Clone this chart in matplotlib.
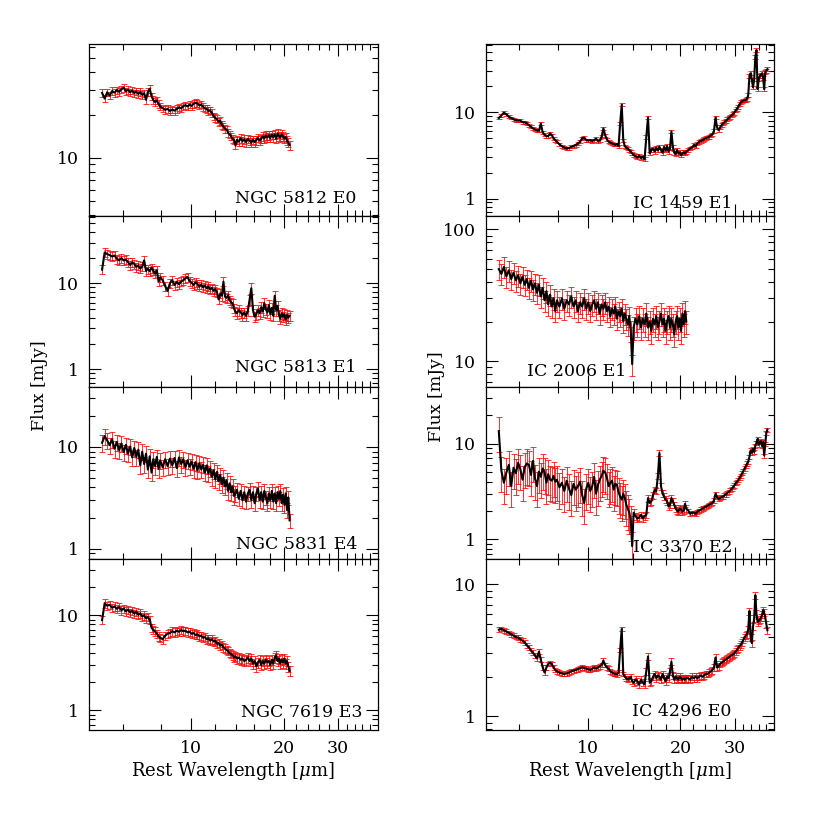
import numpy as np
import matplotlib
matplotlib.use("Agg")
import matplotlib.pyplot as plt
from matplotlib.ticker import FixedLocator, LogLocator, FuncFormatter, NullFormatter

plt.rcParams['font.family'] = 'DejaVu Serif'
plt.rcParams['mathtext.fontset'] = 'dejavuserif'

# wavelength grid (micron), short-low part and long-low extension
wave_short = [5.15, 5.25, 5.35, 5.45, 5.55, 5.65, 5.75, 5.85, 5.95, 6.05,
              6.15, 6.25, 6.35, 6.45, 6.55, 6.65, 6.75, 6.85, 6.95, 7.05,
              7.15, 7.25, 7.35, 7.45, 7.55, 7.65, 7.75, 7.85, 7.95,
              8.1, 8.25, 8.4, 8.55, 8.7, 8.85, 9.0, 9.15, 9.3, 9.45,
              9.6, 9.75, 9.9, 10.05, 10.2, 10.35, 10.5, 10.65, 10.8, 10.95,
              11.1, 11.25, 11.4, 11.55, 11.7, 11.85, 12.0, 12.15, 12.3, 12.45,
              12.6, 12.75, 12.9, 13.05, 13.2, 13.35, 13.5, 13.65, 13.8, 13.95,
              14.1, 14.3, 14.5, 14.7, 14.9, 15.1, 15.3, 15.5, 15.7, 15.9,
              16.1, 16.3, 16.5, 16.7, 16.9, 17.1, 17.3, 17.5, 17.7, 17.9,
              18.1, 18.3, 18.5, 18.7, 18.9, 19.1, 19.3, 19.5, 19.7, 19.9,
              20.1, 20.3, 20.5, 20.7, 20.9]
wave_long = [21.2, 21.5, 21.8, 22.1, 22.4, 22.7, 23.0, 23.3, 23.6, 23.9,
             24.2, 24.5, 24.8, 25.1, 25.4, 25.7, 26.0, 26.3, 26.6, 26.9,
             27.2, 27.5, 27.8, 28.1, 28.4, 28.7, 29.0, 29.3, 29.6, 29.9,
             30.2, 30.5, 30.8, 31.1, 31.4, 31.7, 32.0, 32.3, 32.6, 32.9,
             33.2, 33.5, 33.8, 34.1, 34.4, 34.7, 35.0, 35.3, 35.6, 35.9,
             36.2, 36.5, 36.8, 37.1, 37.4, 37.7, 38.0, 38.3]

# fluxes in mJy
flux_ngc5812 = [28.5, 26.0, 28.8, 27.3, 29.4, 28.6, 29.8, 29.0, 30.2, 31.0,
                29.3, 30.0, 28.8, 29.6, 28.4, 29.2, 28.0, 28.9, 27.6, 28.4,
                25.5, 29.0, 30.5, 27.0, 25.4, 24.6, 25.3, 23.8, 22.9,
                22.3, 21.7, 22.0, 21.3, 21.8, 21.4, 22.0, 22.6, 22.2, 23.0,
                23.4, 22.9, 23.6, 23.1, 23.9, 24.3, 24.0, 23.3, 23.6, 22.8,
                22.2, 22.0, 21.3, 21.5, 20.6, 19.6, 19.0, 18.7, 17.9, 18.2,
                17.0, 16.6, 16.0, 15.8, 15.0, 14.6, 14.2, 13.6, 13.3, 12.2,
                13.4, 13.0, 13.7, 13.1, 13.5, 12.9, 13.6, 13.2, 12.8, 13.4,
                12.9, 13.3, 13.8, 13.2, 13.6, 14.1, 13.7, 14.3, 13.9, 14.4,
                13.8, 14.5, 14.0, 14.6, 13.6, 14.8, 14.2, 13.9, 14.6, 14.1,
                13.7, 14.0, 13.2, 12.8, 12.3]
flux_ngc5813 = [14.5, 23.0, 22.0, 21.4, 20.6, 21.2, 19.4, 18.6, 19.8, 18.5,
                19.0, 17.8, 16.4, 17.6, 16.9, 15.6, 16.2, 14.9, 15.8, 18.6,
                14.0, 14.8, 13.9, 15.2, 14.1, 13.0, 14.2, 10.6, 11.8,
                10.9, 9.3, 8.2, 10.1, 10.9, 9.6, 10.4, 9.8, 10.6, 10.9,
                11.5, 11.9, 10.7, 10.2, 9.6, 10.3, 9.9, 9.2, 9.7, 9.0,
                9.5, 8.8, 9.2, 8.5, 8.9, 8.2, 8.6, 7.9, 6.5, 7.6,
                7.2, 10.5, 7.0, 6.8, 7.3, 6.4, 6.0, 5.9, 5.1, 4.7,
                4.5, 4.9, 4.6, 4.3, 4.6, 4.2, 4.8, 6.5, 8.8, 4.9,
                4.1, 4.4, 4.9, 4.5, 5.3, 4.7, 5.9, 5.0, 4.6, 5.6,
                4.4, 5.2, 4.2, 7.2, 4.9, 5.5, 4.3, 3.9, 4.5, 4.1,
                4.4, 3.8, 4.3, 4.0, 4.2]
flux_ngc5831 = [11.0, 12.8, 11.6, 10.4, 11.9, 9.6, 11.2, 9.3, 10.8, 8.9,
                10.5, 8.6, 10.1, 7.9, 9.8, 8.0, 9.4, 6.6, 9.0, 6.8,
                8.6, 6.0, 8.1, 5.6, 7.6, 6.5, 8.0, 6.1, 7.4,
                6.3, 7.6, 6.5, 7.7, 6.6, 7.8, 6.2, 7.9, 6.8, 7.6,
                6.3, 7.4, 6.4, 7.2, 6.1, 7.1, 5.9, 6.9, 6.0, 6.7,
                5.6, 6.6, 5.5, 6.2, 5.1, 5.9, 4.8, 5.7, 4.6, 5.3,
                4.3, 5.0, 4.1, 4.7, 3.7, 4.4, 3.6, 4.1, 3.3, 3.5,
                3.8, 3.1, 3.7, 3.0, 3.6, 2.9, 3.5, 3.8, 3.0, 3.6,
                2.8, 3.5, 3.9, 3.0, 3.6, 2.9, 3.7, 3.2, 2.8, 3.5,
                3.0, 3.7, 2.9, 3.5, 2.8, 3.6, 3.1, 3.7, 2.8, 3.4,
                2.7, 3.5, 2.4, 3.2, 1.9]
flux_ngc7619 = [8.9, 13.4, 12.6, 12.9, 12.0, 12.4, 11.7, 12.2, 11.3, 11.8,
                11.0, 11.5, 10.7, 11.2, 10.4, 10.9, 10.1, 10.5, 9.7, 10.0,
                9.3, 9.6, 9.0, 7.4, 7.0, 6.8, 6.4, 6.0, 5.8,
                5.6, 6.1, 6.4, 6.5, 6.8, 6.6, 6.9, 6.7, 7.0, 6.8,
                6.9, 6.6, 6.7, 6.4, 6.5, 6.2, 6.3, 6.0, 6.1, 5.8,
                5.9, 5.6, 5.7, 5.4, 5.6, 5.3, 5.4, 5.0, 5.1, 4.8,
                4.9, 4.6, 4.5, 4.3, 4.2, 4.0, 3.9, 3.8, 3.6, 3.7,
                3.5, 3.6, 3.4, 3.5, 3.3, 3.4, 3.6, 3.3, 3.5, 3.1,
                3.3, 2.9, 3.2, 3.4, 3.0, 3.3, 3.1, 3.4, 3.2, 3.3,
                3.0, 3.4, 3.1, 3.6, 3.8, 3.3, 3.5, 3.1, 3.4, 3.2,
                3.5, 3.1, 3.3, 2.9, 2.6]
flux_ic1459 = [8.6, 9.2, 9.9, 9.5, 8.9, 8.6, 8.3, 8.1, 8.05, 8.0,
               7.7, 7.65, 7.45, 7.1, 6.8, 6.5, 6.3, 6.2, 6.1, 7.4,
               5.85, 5.5, 5.3, 5.3, 5.7, 5.45, 5.0, 4.76, 4.55,
               4.25, 4.05, 3.9, 3.8, 3.85, 3.98, 4.05, 4.17, 4.36, 4.55,
               5.0, 5.08, 4.76, 4.7, 4.76, 4.65, 4.76, 4.95, 4.65, 4.7,
               5.2, 6.5, 5.45, 4.85, 4.55, 4.45, 4.36, 4.28, 4.2, 4.28,
               4.05, 7.4, 12.2, 4.76, 4.05, 3.9, 3.8, 3.65, 3.5, 3.34,
               3.18, 3.1, 3.0, 3.15, 2.95, 3.05, 2.85, 5.2, 8.7, 3.34,
               3.65, 3.8, 3.5, 3.9, 3.6, 3.98, 3.65, 3.4, 3.98, 3.6,
               4.05, 3.5, 3.8, 6.0, 3.98, 3.4, 3.28, 3.65, 3.34, 3.45,
               3.18, 3.34, 3.45, 3.34, 3.5,
               3.65, 3.8, 3.9, 4.17, 4.05, 4.36, 4.55, 4.65, 4.76, 4.9,
               5.0, 5.1, 5.2, 5.4, 5.55, 6.1, 8.7, 6.7, 6.2, 6.7,
               7.1, 7.45, 7.7, 8.0, 8.3, 8.6, 8.9, 9.2, 9.6, 9.9,
               10.5, 11.0, 11.6, 12.4, 13.1, 13.4, 13.7, 13.7, 13.9, 14.4,
               15.9, 26.5, 28.4, 24.0, 19.5, 24.0, 44.0, 53.0, 18.6, 24.0,
               26.5, 27.5, 28.4, 25.0, 18.6, 29.5, 30.5, 31.7]
flux_ic2006 = [50, 46, 52, 44, 49, 42, 47, 41, 45, 39,
               44, 38, 42, 36, 41, 35, 39, 33, 38, 31,
               36, 29, 34, 27, 32, 26, 30, 24, 29,
               26, 30, 25, 29, 27, 31, 26, 29, 24, 28,
               26, 30, 25, 28, 24, 27, 29, 25, 28, 23,
               27, 25, 28, 24, 26, 22, 25, 23, 26, 21,
               24, 22, 25, 20, 23, 21, 19, 22, 17, 9.5,
               18, 21, 19, 22, 18, 21, 19, 23, 18, 20,
               17, 21, 19, 22, 18, 20, 23, 19, 21, 17,
               20, 22, 18, 21, 19, 16, 20, 22, 18, 21,
               17, 23, 19, 24, 20]
flux_ic3370 = [13.5, 5.2, 3.9, 5.0, 6.0, 3.6, 5.6, 4.9, 6.3, 5.4,
               4.2, 5.7, 6.2, 6.0, 4.7, 6.6, 4.3, 3.6, 5.1, 4.5,
               5.5, 5.0, 3.9, 4.8, 4.2, 4.1, 4.6, 4.0, 4.2,
               3.5, 3.9, 3.2, 4.1, 3.4, 2.9, 3.8, 3.3, 3.6, 4.0,
               2.9, 2.4, 3.4, 3.9, 3.2, 3.6, 4.5, 3.0, 3.7, 4.2,
               4.6, 5.2, 5.0, 4.4, 3.6, 3.9, 4.1, 3.3, 3.8, 3.7,
               3.1, 2.8, 2.6, 3.0, 2.7, 2.3, 2.1, 1.9, 1.6, 0.85,
               1.9, 1.75, 1.65, 1.7, 1.8, 1.65, 1.75, 1.8, 2.7, 2.4,
               2.5, 2.9, 3.3, 3.2, 4.6, 8.0, 3.6, 3.0, 2.8, 2.6,
               2.5, 2.2, 2.3, 2.7, 2.5, 2.3, 2.1, 2.0, 1.95, 2.1,
               2.05, 1.95, 2.0, 2.35, 2.1,
               2.0, 1.85, 1.9, 1.9, 1.85, 1.95, 2.0, 2.05, 2.1, 2.15,
               2.2, 2.25, 2.3, 2.35, 2.4, 2.55, 3.0, 2.75, 2.65, 2.7,
               2.75, 2.8, 2.9, 2.95, 3.05, 3.15, 3.25, 3.35, 3.5, 3.65,
               3.85, 4.0, 4.15, 4.4, 4.6, 4.9, 5.2, 5.5, 5.8, 6.2,
               6.5, 7.3, 8.5, 8.0, 8.8, 8.2, 9.5, 10.2, 11.2, 9.8,
               10.5, 10.6, 9.4, 10.4, 7.5, 10.0, 13.0, 14.0]
flux_ic4296 = [4.55, 4.6, 4.5, 4.4, 4.3, 4.2, 4.1, 4.0, 3.95, 3.85,
               3.75, 3.65, 3.45, 3.35, 3.15, 3.05, 2.9, 2.75, 3.1, 2.7,
               2.35, 2.15, 2.35, 2.5, 2.55, 2.5, 2.35, 2.25, 2.2,
               2.15, 2.12, 2.1, 2.12, 2.15, 2.2, 2.22, 2.25, 2.28, 2.32,
               2.35, 2.33, 2.3, 2.28, 2.25, 2.3, 2.35, 2.3, 2.35, 2.4,
               2.45, 2.65, 2.45, 2.35, 2.3, 2.2, 2.15, 2.12, 2.1, 2.08,
               2.15, 3.2, 4.6, 2.1, 2.0, 1.95, 1.9, 1.95, 2.0, 1.85,
               1.8, 1.9, 1.85, 1.75, 1.9, 1.8, 1.75, 2.2, 2.85, 1.8,
               1.85, 2.0, 2.1, 1.95, 2.05, 2.0, 1.9, 2.1, 1.95, 1.85,
               2.0, 1.95, 2.2, 2.6, 2.05, 1.9, 2.0, 1.95, 1.9, 2.0,
               1.95, 1.9, 1.95, 1.9, 1.95,
               1.95, 1.9, 2.0, 1.95, 2.0, 1.95, 2.0, 2.05, 2.0, 2.05,
               2.1, 2.1, 2.15, 2.2, 2.25, 2.35, 2.8, 2.35, 2.4, 2.5,
               2.55, 2.6, 2.65, 2.7, 2.75, 2.8, 2.85, 2.9, 2.95, 3.0,
               3.1, 3.2, 3.3, 3.4, 3.5, 3.65, 3.8, 4.0, 4.1, 4.2,
               4.6, 6.3, 4.0, 3.6, 4.8, 5.5, 8.3, 6.0, 5.2, 5.3,
               5.4, 5.6, 5.9, 6.4, 6.1, 5.6, 5.0, 4.5]

# fractional errors: (below 14 um, 14-21 um, above 21 um)
err_ngc5812 = (0.06, 0.07, 0.07)
err_ngc5813 = (0.12, 0.14, 0.14)
err_ngc5831 = (0.18, 0.16, 0.16)
err_ngc7619 = (0.10, 0.12, 0.12)
err_ic1459 = (0.04, 0.05, 0.05)
err_ic2006 = (0.18, 0.2, 0.2)
err_ic3370 = (0.40, 0.08, 0.05)
err_ic4296 = (0.04, 0.06, 0.06)

left_col = [("NGC 5812 E0", wave_short, flux_ngc5812, err_ngc5812, (3.93, 62.3), (0.506, 0.075)),
            ("NGC 5813 E1", wave_short, flux_ngc5813, err_ngc5813, (0.62, 61.4), (0.506, 0.086)),
            ("NGC 5831 E4", wave_short, flux_ngc5831, err_ngc5831, (0.80, 38.7), (0.51, 0.058)),
            ("NGC 7619 E3", wave_short, flux_ngc7619, err_ngc7619, (0.62, 39.5), (0.528, 0.078))]
right_col = [("IC 1459 E1", wave_short + wave_long, flux_ic1459, err_ic1459, (0.63, 61.4), (0.511, 0.044)),
             ("IC 2006 E1", wave_short, flux_ic2006, err_ic2006, (6.35, 127.0), (0.144, 0.064)),
             ("IC 3370 E2", wave_short + wave_long, flux_ic3370, err_ic3370, (0.63, 38.8), (0.511, 0.037)),
             ("IC 4296 E0", wave_short + wave_long, flux_ic4296, err_ic4296, (0.79, 15.7), (0.508, 0.082))]

x_major = [10, 20, 30]
x_minor = [6, 8, 12, 14, 16, 18, 22, 24, 26, 28, 32, 34, 36, 38]

fig = plt.figure(figsize=(8.17, 8.17), dpi=100)

W = 817.0
col_x = [89 / W, 485.7 / W]
col_w = 288.5 / W
bot = 1 - 730 / W
h = 171.4 / W

fmt = FuncFormatter(lambda v, p: '%g' % v)

for c, panels in enumerate([left_col, right_col]):
    for r, (name, w, f, fr, ylim, tpos) in enumerate(panels):
        ax = fig.add_axes([col_x[c], bot + (3 - r) * h, col_w, h])
        w = np.array(w)
        f = np.array(f)
        frac = np.where(w < 14, fr[0], np.where(w < 21, fr[1], fr[2]))
        ax.errorbar(w, f, yerr=f * frac, fmt='none', ecolor='red',
                    elinewidth=0.7, capsize=2, capthick=0.7, alpha=0.8, zorder=2)
        ax.plot(w, f, color='black', lw=1.5, zorder=3)
        ax.set_xscale('log')
        ax.set_yscale('log')
        ax.set_xlim(4.67, 40.3)
        ax.set_ylim(*ylim)
        ax.xaxis.set_major_locator(FixedLocator(x_major))
        ax.xaxis.set_minor_locator(FixedLocator(x_minor))
        ax.xaxis.set_minor_formatter(NullFormatter())
        if r == 3:
            ax.xaxis.set_major_formatter(fmt)
        else:
            ax.xaxis.set_major_formatter(NullFormatter())
        ax.yaxis.set_major_locator(LogLocator(base=10))
        ax.yaxis.set_minor_locator(LogLocator(base=10, subs=(2, 3, 4, 5, 6, 7, 8, 9)))
        ax.yaxis.set_major_formatter(fmt)
        ax.yaxis.set_minor_formatter(NullFormatter())
        ax.tick_params(which='both', direction='in', top=True, right=True, width=0.8)
        ax.tick_params(which='major', length=8.5, labelsize=12.5, pad=7)
        ax.tick_params(which='minor', length=4.3)
        for s in ax.spines.values():
            s.set_linewidth(0.9)
        ax.text(tpos[0], tpos[1], name, transform=ax.transAxes, fontsize=12.5,
                ha='left', va='baseline')

for c in range(2):
    fig.text(col_x[c] + col_w / 2, 1 - 771 / W, r'Rest Wavelength [$\mu$m]',
             ha='center', va='center', fontsize=13)
fig.text(40 / W, 1 - 386 / W, 'Flux [mJy]', rotation=90, ha='center', va='center', fontsize=12.5)
fig.text(437 / W, 1 - 397 / W, 'Flux [mJy]', rotation=90, ha='center', va='center', fontsize=12.5)

fig.savefig('out.png', dpi=100)
